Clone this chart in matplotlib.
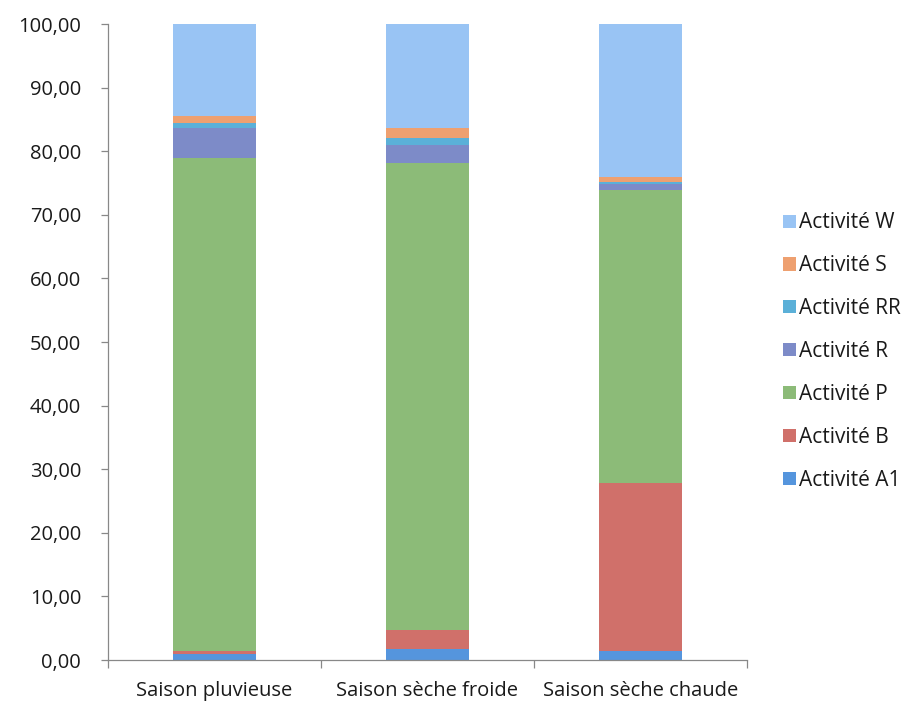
import matplotlib
matplotlib.use("Agg")
import matplotlib.pyplot as plt
from matplotlib.patches import Patch
from matplotlib.ticker import FuncFormatter, FixedLocator

plt.rcParams['font.family'] = ['Open Sans', 'DejaVu Sans']

seasons = ["Saison pluvieuse", "Saison sèche froide", "Saison sèche chaude"]
series_names = ["Activité A1", "Activité B", "Activité P", "Activité R",
                "Activité RR", "Activité S", "Activité W"]

act_a1 = [0.9, 1.8, 1.5]
act_b = [0.5, 3.0, 26.3]
act_p = [77.5, 73.3, 46.1]
act_r = [4.7, 2.9, 1.0]
act_rr = [0.8, 1.1, 0.3]
act_s = [1.1, 1.5, 0.8]
act_w = [14.5, 16.4, 24.0]

values = [act_a1, act_b, act_p, act_r, act_rr, act_s, act_w]
colors = ["#5595DD", "#D0706A", "#8CBB78", "#7D8BC8", "#5BB0D8", "#EEA070", "#99C4F4"]

fig = plt.figure(figsize=(9.19, 7.06), dpi=100)
ax = fig.add_axes([0.117, 0.065, 0.696, 0.901])

x = list(range(len(seasons)))
bottom = [0.0] * len(seasons)
for vals, col in zip(values, colors):
    ax.bar(x, vals, width=0.39, bottom=bottom, color=col, linewidth=0)
    bottom = [b + v for b, v in zip(bottom, vals)]

ax.set_xlim(-0.5, 2.5)
ax.set_ylim(0, 100)
ax.set_yticks(range(0, 101, 10))
ax.yaxis.set_major_formatter(FuncFormatter(lambda v, p: f"{v:.2f}".replace(".", ",")))

ax.set_xticks(x)
ax.set_xticklabels(seasons)
ax.xaxis.set_minor_locator(FixedLocator([-0.5, 0.5, 1.5, 2.5]))
ax.tick_params(axis='x', which='major', length=0, pad=15, labelsize=14.5, labelcolor='#1a1a1a')
ax.tick_params(axis='x', which='minor', length=6, color='#888888', width=0.9)
ax.tick_params(axis='y', length=5, color='#888888', width=0.9, labelsize=14.5, labelcolor='#1a1a1a', pad=14)

for s in ['top', 'right']:
    ax.spines[s].set_visible(False)
for s in ['left', 'bottom']:
    ax.spines[s].set_color('#888888')
    ax.spines[s].set_linewidth(0.9)

handles = [Patch(facecolor=c, edgecolor='none', label=n) for n, c in zip(series_names, colors)]
leg = fig.legend(handles[::-1], series_names[::-1], loc='center left',
                 bbox_to_anchor=(0.832, 0.502), frameon=False, fontsize=15,
                 labelspacing=1.05, handlelength=0.6, handleheight=0.6,
                 handletextpad=0.15, labelcolor='#1a1a1a')

fig.savefig("out.png", dpi=100)
